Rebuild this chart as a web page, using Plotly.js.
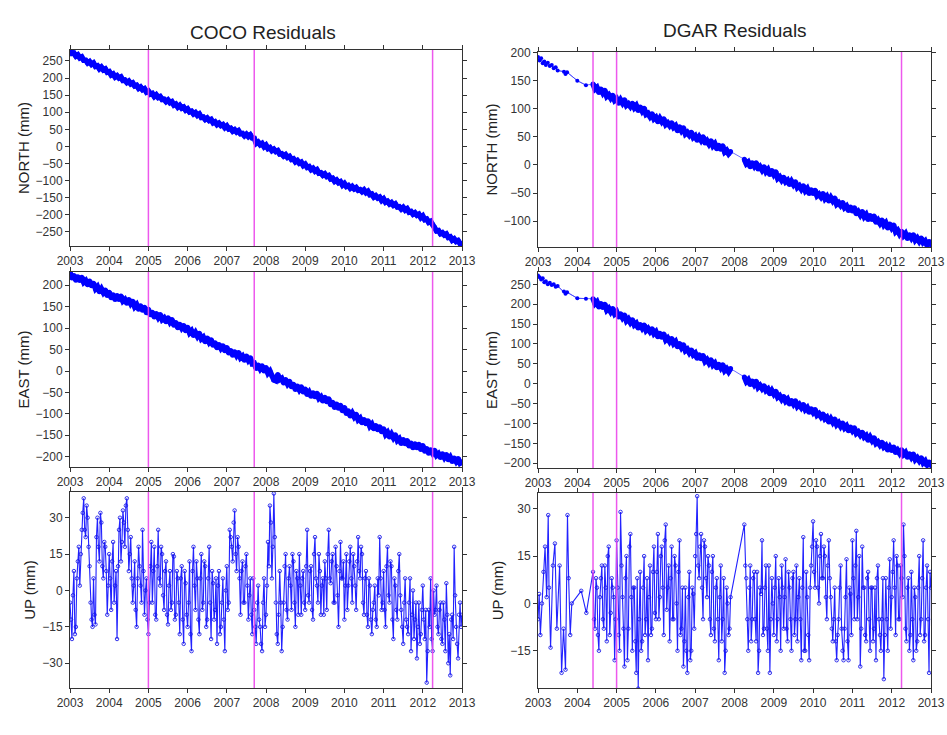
<!DOCTYPE html>
<html><head><meta charset="utf-8">
<script src="https://cdn.plot.ly/plotly-3.0.1.min.js"></script>
<style>html,body{margin:0;padding:0;background:#fff}#chart{width:947px;height:735px}</style>
</head><body><div id="chart"></div>
<script>
// ---------- COCO ----------
const cocoTime = [
2003.00,2003.05,2003.10,2003.15,2003.20,2003.25,2003.30,2003.35,2003.40,2003.45,2003.50,2003.55,2003.60,2003.65,2003.70,2003.75,2003.80,2003.85,2003.90,2003.95,
2004.00,2004.05,2004.10,2004.15,2004.20,2004.25,2004.30,2004.35,2004.40,2004.45,2004.50,2004.55,2004.60,2004.65,2004.70,2004.75,2004.80,2004.85,2004.90,2004.95,
2005.00,2005.05,2005.10,2005.15,2005.20,2005.25,2005.30,2005.35,2005.40,2005.45,2005.50,2005.55,2005.60,2005.65,2005.70,2005.75,2005.80,2005.85,2005.90,2005.95,
2006.00,2006.05,2006.10,2006.15,2006.20,2006.25,2006.30,2006.35,2006.40,2006.45,2006.50,2006.55,2006.60,2006.65,2006.70,2006.75,2006.80,2006.85,2006.90,2006.95,
2007.00,2007.05,2007.10,2007.15,2007.20,2007.25,2007.30,2007.35,2007.40,2007.45,2007.50,2007.55,2007.60,2007.65,2007.70,2007.75,2007.80,2007.85,2007.90,2007.95,
2008.00,2008.05,2008.10,2008.15,2008.20,2008.25,2008.30,2008.35,2008.40,2008.45,2008.50,2008.55,2008.60,2008.65,2008.70,2008.75,2008.80,2008.85,2008.90,2008.95,
2009.00,2009.05,2009.10,2009.15,2009.20,2009.25,2009.30,2009.35,2009.40,2009.45,2009.50,2009.55,2009.60,2009.65,2009.70,2009.75,2009.80,2009.85,2009.90,2009.95,
2010.00,2010.05,2010.10,2010.15,2010.20,2010.25,2010.30,2010.35,2010.40,2010.45,2010.50,2010.55,2010.60,2010.65,2010.70,2010.75,2010.80,2010.85,2010.90,2010.95,
2011.00,2011.05,2011.10,2011.15,2011.20,2011.25,2011.30,2011.35,2011.40,2011.45,2011.50,2011.55,2011.60,2011.65,2011.70,2011.75,2011.80,2011.85,2011.90,2011.95,
2012.00,2012.05,2012.10,2012.15,2012.20,2012.25,2012.30,2012.35,2012.40,2012.45,2012.50,2012.55,2012.60,2012.65,2012.70,2012.75,2012.80,2012.85,2012.90,2012.95,
2013.00];
const cocoNorth = [
282,272,273,264,268,259,262,252,252,244,248,240,244,234,236,227,232,224,227,217,
219,209,212,203,207,200,203,193,194,187,191,183,186,177,179,170,174,166,169,159,
162,153,155,146,151,143,146,137,138,131,136,128,131,121,124,115,120,112,115,106,
110,101,103,95,99,91,95,85,86,79,83,76,79,69,72,64,68,61,64,55,
60,51,53,45,49,42,46,37,38,31,36,29,34,25,24,9,13,5,9,-1,
4,-6,-3,-12,-8,-15,-12,-22,-21,-28,-24,-32,-29,-38,-36,-45,-41,-49,-46,-56,
-52,-61,-59,-68,-64,-72,-68,-78,-77,-84,-80,-88,-85,-95,-93,-102,-98,-106,-103,-113,
-108,-117,-114,-122,-117,-124,-120,-128,-126,-132,-127,-135,-131,-141,-139,-148,-144,-151,-148,-158,
-153,-163,-160,-168,-164,-172,-168,-177,-176,-183,-178,-186,-182,-192,-190,-198,-194,-201,-198,-208,
-203,-214,-212,-222,-219,-228,-236,-247,-246,-255,-252,-259,-256,-266,-264,-274,-270,-278,-275,-284,
-285];
const cocoEast = [
230,217,223,212,220,211,219,207,211,201,210,199,205,192,197,185,192,183,189,176,
184,171,178,167,176,167,175,163,167,158,167,157,163,150,155,144,152,142,149,136,
144,131,137,126,134,125,132,120,124,115,124,114,120,107,113,101,109,100,106,94,
102,89,94,83,90,81,88,75,79,68,77,67,73,60,66,54,62,53,59,47,
55,42,48,37,45,36,43,31,35,25,35,25,31,17,18,6,14,5,12,0,
8,-5,0,-11,-21,-23,-8,-20,-17,-28,-20,-30,-24,-37,-31,-43,-35,-44,-37,-49,
-42,-55,-49,-59,-51,-60,-52,-64,-60,-70,-61,-72,-65,-79,-73,-85,-77,-87,-80,-93,
-85,-99,-93,-105,-98,-107,-101,-114,-110,-121,-113,-123,-116,-129,-124,-135,-127,-137,-130,-142,
-135,-148,-143,-154,-147,-156,-149,-162,-158,-169,-160,-170,-162,-175,-168,-179,-170,-179,-171,-183,
-174,-187,-181,-192,-184,-192,-185,-197,-193,-202,-193,-202,-195,-207,-201,-211,-203,-211,-204,-215,
-212];
const cocoUp = [
-5,-20,8,-15,12,2,25,38,22,30,10,-12,5,-14,30,12,28,5,18,-10,
15,-8,20,2,-20,25,12,33,18,38,8,22,-5,12,-15,18,2,25,-10,5,
-18,10,-5,18,-12,25,2,15,-8,12,-14,8,-5,14,-10,5,-18,10,-22,3,
-15,12,-25,18,-8,5,-18,15,-5,10,-12,18,-20,3,-8,-22,8,-15,5,-25,
10,-5,22,12,33,8,18,-10,12,-5,15,-12,5,-18,-8,-22,2,-15,-25,5,
-10,20,35,5,40,-5,-22,8,-25,-5,15,-12,10,-8,12,-15,5,15,-10,8,
-8,25,-5,10,-12,22,2,15,-10,5,12,-8,25,3,15,-5,10,-15,20,5,
-12,15,2,18,-5,10,-8,22,5,15,-10,8,-15,2,-18,-5,-12,5,22,-8,
8,-15,18,-5,10,-20,2,-12,15,-8,-22,5,-15,-5,-25,0,-12,-28,-5,-18,
2,-20,-38,-8,5,-25,-10,2,-18,-5,-22,-12,3,-30,-35,-10,18,-15,-28,-5,
-10];
const cocoUpMidTime = [
2003.025,2003.075,2003.125,2003.175,2003.225,2003.275,2003.325,2003.375,2003.425,2003.475,2003.525,2003.575,2003.625,2003.675,2003.725,2003.775,2003.825,2003.875,2003.925,2003.975,
2004.025,2004.075,2004.125,2004.175,2004.225,2004.275,2004.325,2004.375,2004.425,2004.475,2004.525,2004.575,2004.625,2004.675,2004.725,2004.775,2004.825,2004.875,2004.925,2004.975,
2005.025,2005.075,2005.125,2005.175,2005.225,2005.275,2005.325,2005.375,2005.425,2005.475,2005.525,2005.575,2005.625,2005.675,2005.725,2005.775,2005.825,2005.875,2005.925,2005.975,
2006.025,2006.075,2006.125,2006.175,2006.225,2006.275,2006.325,2006.375,2006.425,2006.475,2006.525,2006.575,2006.625,2006.675,2006.725,2006.775,2006.825,2006.875,2006.925,2006.975,
2007.025,2007.075,2007.125,2007.175,2007.225,2007.275,2007.325,2007.375,2007.425,2007.475,2007.525,2007.575,2007.625,2007.675,2007.725,2007.775,2007.825,2007.875,2007.925,2007.975,
2008.025,2008.075,2008.125,2008.175,2008.225,2008.275,2008.325,2008.375,2008.425,2008.475,2008.525,2008.575,2008.625,2008.675,2008.725,2008.775,2008.825,2008.875,2008.925,2008.975,
2009.025,2009.075,2009.125,2009.175,2009.225,2009.275,2009.325,2009.375,2009.425,2009.475,2009.525,2009.575,2009.625,2009.675,2009.725,2009.775,2009.825,2009.875,2009.925,2009.975,
2010.025,2010.075,2010.125,2010.175,2010.225,2010.275,2010.325,2010.375,2010.425,2010.475,2010.525,2010.575,2010.625,2010.675,2010.725,2010.775,2010.825,2010.875,2010.925,2010.975,
2011.025,2011.075,2011.125,2011.175,2011.225,2011.275,2011.325,2011.375,2011.425,2011.475,2011.525,2011.575,2011.625,2011.675,2011.725,2011.775,2011.825,2011.875,2011.925,2011.975,
2012.025,2012.075,2012.125,2012.175,2012.225,2012.275,2012.325,2012.375,2012.425,2012.475,2012.525,2012.575,2012.625,2012.675,2012.725,2012.775,2012.825,2012.875,2012.925,2012.975];
const cocoUpMid = [
-12,-2,-18,5,18,15,32,25,35,18,-5,-15,-10,22,18,32,10,20,8,2,
5,12,-5,8,10,30,20,28,35,25,15,5,2,-8,5,10,-5,8,0,-12,
-5,20,8,-10,10,5,18,-2,8,-10,2,-8,15,-12,8,-5,5,-12,8,-10,
-5,-18,8,2,12,-12,5,-8,12,-15,5,-5,8,-12,5,2,-18,-5,-12,0,
-8,25,18,28,15,22,5,8,-5,10,2,-2,-10,5,-15,-5,-12,-22,-5,-15,
2,10,28,18,22,-18,-10,-5,-15,10,-8,5,2,15,-5,8,-10,2,5,-5,
10,-2,8,-8,15,5,-5,8,2,-10,5,15,5,12,-5,18,-2,8,5,12,
2,-8,12,5,15,2,12,8,18,-5,5,-10,5,-12,-8,2,-15,-2,5,-5,
-8,10,-2,12,-12,5,-8,8,-2,-15,-5,-12,-18,5,-10,-20,-5,-15,-22,-8,
-12,-8,-25,-15,-20,0,-8,-15,-8,-20,-5,-25,-10,-18,-12,-20,-2,-22,-10,-15];
const cocoEvents = [2005.0, 2007.7, 2012.25];

// ---------- DGAR ----------
const dgarEarlyTimeNE = [2003.00,2003.04,2003.08,2003.12,2003.16,2003.20,2003.25,2003.30,2003.35,2003.40,2003.45,2003.50,2003.66,2003.70,2003.74,2004.00,2004.22];
const dgarEarlyNorth = [192,186,190,181,184,178,182,176,178,172,174,168,166,162,165,150,142];
const dgarEarlyEast = [272,268,262,265,255,258,250,254,248,250,244,246,232,226,230,215,214];
const dgarEarlyTimeUp = [2003.00,2003.03,2003.06,2003.10,2003.14,2003.18,2003.22,2003.26,2003.28,2003.32,2003.38,2003.43,2003.48,2003.55,2003.60,2003.65,2003.70,2003.75,2003.78,2003.82,2003.86,2004.10,2004.23];
const dgarEarlyUp = [-5,3,-10,0,10,18,2,28,5,-14,12,19,-8,12,-22,-8,-21,28,8,-10,0,4,-3];
const dgarTime = [
2004.40,2004.45,2004.50,2004.55,2004.60,2004.65,2004.70,2004.75,2004.80,2004.85,2004.90,2004.95,
2005.00,2005.05,2005.10,2005.15,2005.20,2005.25,2005.30,2005.35,2005.40,2005.45,2005.50,2005.55,2005.60,2005.65,2005.70,2005.75,2005.80,2005.85,2005.90,2005.95,
2006.00,2006.05,2006.10,2006.15,2006.20,2006.25,2006.30,2006.35,2006.40,2006.45,2006.50,2006.55,2006.60,2006.65,2006.70,2006.75,2006.80,2006.85,2006.90,2006.95,
2007.00,2007.05,2007.10,2007.15,2007.20,2007.25,2007.30,2007.35,2007.40,2007.45,2007.50,2007.55,2007.60,2007.65,2007.70,2007.75,2007.80,2007.85,2007.90,
2008.25,2008.30,2008.35,2008.40,2008.45,2008.50,2008.55,2008.60,2008.65,2008.70,2008.75,2008.80,2008.85,2008.90,2008.95,
2009.00,2009.05,2009.10,2009.15,2009.20,2009.25,2009.30,2009.35,2009.40,2009.45,2009.50,2009.55,2009.60,2009.65,2009.70,2009.75,2009.80,2009.85,2009.90,2009.95,
2010.00,2010.05,2010.10,2010.15,2010.20,2010.25,2010.30,2010.35,2010.40,2010.45,2010.50,2010.55,2010.60,2010.65,2010.70,2010.75,2010.80,2010.85,2010.90,2010.95,
2011.00,2011.05,2011.10,2011.15,2011.20,2011.25,2011.30,2011.35,2011.40,2011.45,2011.50,2011.55,2011.60,2011.65,2011.70,2011.75,2011.80,2011.85,2011.90,2011.95,
2012.00,2012.05,2012.10,2012.15,2012.20,2012.25,2012.30,2012.35,2012.40,2012.45,2012.50,2012.55,2012.60,2012.65,2012.70,2012.75,2012.80,2012.85,2012.90,2012.95,
2013.00];
const dgarNorth = [
144,135,138,129,135,128,133,122,125,119,124,115,
118,110,116,110,116,106,109,104,110,102,106,97,103,96,101,90,92,86,91,82,
85,77,83,77,82,72,75,70,75,67,70,61,68,61,66,55,58,53,58,49,
52,44,50,44,50,39,43,37,43,34,38,29,35,28,34,23,26,20,24,
10,2,5,-3,4,-2,4,-7,-3,-9,-3,-12,-8,-17,-10,
-17,-12,-24,-21,-27,-22,-30,-27,-35,-29,-35,-30,-40,-37,-43,-37,-46,-42,-51,-44,
-51,-45,-55,-52,-57,-51,-60,-56,-64,-58,-64,-59,-70,-67,-72,-67,-76,-73,-81,-75,
-82,-76,-87,-83,-89,-83,-92,-88,-97,-90,-97,-91,-102,-98,-104,-98,-107,-103,-112,-105,
-112,-107,-119,-116,-123,-118,-126,-122,-131,-124,-130,-124,-134,-130,-136,-130,-138,-135,-143,-136,
-142];
const dgarEast = [
214,201,206,193,202,192,200,185,190,181,189,176,
181,168,176,166,173,158,163,154,161,148,152,140,149,140,148,134,139,131,138,126,
131,118,127,117,125,110,115,106,114,101,106,93,101,91,98,83,87,78,85,73,
77,64,73,63,71,56,61,52,60,47,52,40,49,40,48,33,38,30,38,
17,5,10,-2,7,-2,6,-9,-4,-12,-5,-17,-13,-25,-17,
-26,-19,-34,-30,-39,-32,-44,-39,-51,-42,-51,-43,-57,-52,-60,-52,-65,-60,-72,-63,
-72,-65,-79,-75,-83,-76,-88,-84,-96,-88,-97,-89,-103,-98,-107,-99,-111,-106,-118,-109,
-118,-111,-125,-121,-129,-122,-134,-130,-142,-134,-143,-136,-150,-146,-154,-147,-159,-155,-167,-159,
-168,-159,-173,-167,-175,-166,-178,-173,-185,-176,-185,-177,-191,-186,-194,-186,-199,-194,-206,-197,
-206];
const dgarUp = [
10,-8,5,-15,8,-5,12,-12,18,-3,5,-18,
20,-10,29,2,-20,15,-8,22,-15,5,-22,-27,10,-12,15,-5,-18,12,-8,18,
-5,22,2,18,-10,25,5,-12,18,-5,12,-15,20,-8,-20,5,-22,10,-15,3,
15,34,8,22,-5,18,2,12,-10,15,-12,8,-18,12,-5,-22,5,-10,2,
25,8,-15,12,-5,10,-12,-22,5,20,-8,12,-15,-22,8,
-10,15,-5,2,12,-8,14,-12,5,-15,10,-5,-12,8,-18,21,-15,2,-18,12,
26,5,18,0,22,8,15,-5,20,2,-12,5,-18,-5,12,-15,-8,14,-18,3,
20,-5,23,2,-20,18,5,-12,10,-15,5,-8,-18,12,-10,-5,-24,8,-15,14,
2,20,-10,12,-5,8,25,-8,5,-15,10,-18,2,-12,15,-5,20,-10,12,-22,
5];
const dgarUpMidTime = [
2004.425,2004.475,2004.525,2004.575,2004.625,2004.675,2004.725,2004.775,2004.825,2004.875,2004.925,2004.975,
2005.025,2005.075,2005.125,2005.175,2005.225,2005.275,2005.325,2005.375,2005.425,2005.475,2005.525,2005.575,2005.625,2005.675,2005.725,2005.775,2005.825,2005.875,2005.925,2005.975,
2006.025,2006.075,2006.125,2006.175,2006.225,2006.275,2006.325,2006.375,2006.425,2006.475,2006.525,2006.575,2006.625,2006.675,2006.725,2006.775,2006.825,2006.875,2006.925,2006.975,
2007.025,2007.075,2007.125,2007.175,2007.225,2007.275,2007.325,2007.375,2007.425,2007.475,2007.525,2007.575,2007.625,2007.675,2007.725,2007.775,2007.825,2007.875,
2008.275,2008.325,2008.375,2008.425,2008.475,2008.525,2008.575,2008.625,2008.675,2008.725,2008.775,2008.825,2008.875,2008.925,2008.975,
2009.025,2009.075,2009.125,2009.175,2009.225,2009.275,2009.325,2009.375,2009.425,2009.475,2009.525,2009.575,2009.625,2009.675,2009.725,2009.775,2009.825,2009.875,2009.925,2009.975,
2010.025,2010.075,2010.125,2010.175,2010.225,2010.275,2010.325,2010.375,2010.425,2010.475,2010.525,2010.575,2010.625,2010.675,2010.725,2010.775,2010.825,2010.875,2010.925,2010.975,
2011.025,2011.075,2011.125,2011.175,2011.225,2011.275,2011.325,2011.375,2011.425,2011.475,2011.525,2011.575,2011.625,2011.675,2011.725,2011.775,2011.825,2011.875,2011.925,2011.975,
2012.025,2012.075,2012.125,2012.175,2012.225,2012.275,2012.325,2012.375,2012.425,2012.475,2012.525,2012.575,2012.625,2012.675,2012.725,2012.775,2012.825,2012.875,2012.925,2012.975];
const dgarUpMid = [
-5,8,-10,2,12,-8,5,15,-10,8,2,-5,
5,-15,12,-8,8,-18,18,2,5,-12,8,-5,-15,5,-10,8,2,-10,10,-3,
10,-5,15,5,20,-2,12,8,-5,15,0,10,-10,5,-12,-15,2,-18,5,-8,
22,12,18,5,20,8,15,-5,10,-8,5,-5,2,-12,8,-15,0,-8,
12,-5,5,-12,8,-5,10,-15,3,-10,5,-8,12,-5,0,
5,-12,8,-15,5,2,-8,10,-5,8,-10,12,2,-5,5,-15,10,-10,5,18,
10,20,5,15,8,18,2,12,8,-8,-5,-12,-10,5,-8,-18,2,-12,5,-10,
8,12,-5,15,-8,5,-10,8,-5,5,-12,5,8,-5,-15,8,-10,-5,5,-8,
10,5,15,-5,12,2,15,-12,8,-10,-5,5,-15,5,-10,8,-12,5,-5,10];
const dgarEvents = [2004.4, 2005.0, 2012.25];

const xTickVals = [2003,2004,2005,2006,2007,2008,2009,2010,2011,2012,2013];

// ---------- build ----------
const blue = '#0000ff';
function merge(t1, v1, t2, v2) {
  const pts = t1.map((t, i) => [t, v1[i]]).concat(t2.map((t, i) => [t, v2[i]]));
  pts.sort((a, b) => a[0] - b[0]);
  return [pts.map(p => p[0]), pts.map(p => p[1])];
}
function band(t, v, xa, ya) {
  return {x: t, y: v, xaxis: xa, yaxis: ya, type: 'scatter', mode: 'lines+markers',
    line: {color: blue, width: 5.5}, marker: {color: blue, size: 5, line: {width: 0}}, hoverinfo: 'skip'};
}
function thin(t, v, xa, ya, msize) {
  return {x: t, y: v, xaxis: xa, yaxis: ya, type: 'scatter', mode: msize ? 'lines+markers' : 'lines',
    line: {color: 'rgba(60,60,255,0.75)', width: 1}, marker: {color: blue, size: msize || 0}, hoverinfo: 'skip'};
}
function upTrace(t, v, xa, ya) {
  return {x: t, y: v, xaxis: xa, yaxis: ya, type: 'scatter', mode: 'lines+markers',
    line: {color: 'rgba(10,10,255,0.9)', width: 1.1},
    marker: {color: 'rgba(20,20,230,0.85)', size: 3.5, symbol: 'circle-open', line: {width: 1}}, hoverinfo: 'skip'};
}
function dgarBand(early, dense, xa, ya) {
  const out = [];
  const allT = dgarEarlyTimeNE.concat(dgarTime), allV = early.concat(dense);
  out.push(thin(allT, allV, xa, ya));
  out.push(thin(dgarEarlyTimeNE, early, xa, ya, 4));
  out.push(band(dgarTime.slice(0, 71), dense.slice(0, 71), xa, ya));
  out.push(band(dgarTime.slice(71), dense.slice(71), xa, ya));
  return out;
}
const cocoUpAll = merge(cocoTime, cocoUp, cocoUpMidTime, cocoUpMid);
const dgarUpAll = merge(dgarEarlyTimeUp.concat(dgarTime), dgarEarlyUp.concat(dgarUp), dgarUpMidTime, dgarUpMid);
const data = [
  band(cocoTime, cocoNorth, 'x', 'y'),
  ...dgarBand(dgarEarlyNorth, dgarNorth, 'x2', 'y2'),
  band(cocoTime, cocoEast, 'x3', 'y3'),
  ...dgarBand(dgarEarlyEast, dgarEast, 'x4', 'y4'),
  upTrace(cocoUpAll[0], cocoUpAll[1], 'x5', 'y5'),
  upTrace(dgarUpAll[0], dgarUpAll[1], 'x6', 'y6')
];

const W = 947, H = 735;
const colX = [[70, 462], [538, 931]];
const rowY = [[[50, 246], [272, 467], [492, 688]], [[52, 247], [272, 468], [493, 688]]];
const yRanges = [[[-291, 282], [-224, 231], [-40.2, 40.6]], [[-146, 201], [-212, 281], [-26.8, 35]]];
const yTicks = [
  [[-250,-200,-150,-100,-50,0,50,100,150,200,250], [-200,-150,-100,-50,0,50,100,150,200], [-30,-15,0,15,30]],
  [[-100,-50,0,50,100,150,200], [-200,-150,-100,-50,0,50,100,150,200,250], [-15,0,15,30]]
];
const yTitles = ['NORTH (mm)', 'EAST (mm)', 'UP (mm)'];
const tickFont = {family: 'Liberation Sans, Arial, sans-serif', size: 12, color: '#333'};

const layout = {
  width: W, height: H, margin: {l: 0, r: 0, t: 0, b: 0},
  paper_bgcolor: '#fff', plot_bgcolor: '#fff', showlegend: false,
  font: {family: 'Liberation Sans, Arial, sans-serif', color: '#222'},
  shapes: [], annotations: [
    {text: 'COCO Residuals', x: 263/W, y: 1 - 33/H, xref: 'paper', yref: 'paper', showarrow: false, font: {size: 19, color: '#222'}, xanchor: 'center', yanchor: 'middle'},
    {text: 'DGAR Residuals', x: 735/W, y: 1 - 30/H, xref: 'paper', yref: 'paper', showarrow: false, font: {size: 19, color: '#222'}, xanchor: 'center', yanchor: 'middle'}
  ]
};
let idx = 1;
for (let r = 0; r < 3; r++) {
  for (let c = 0; c < 2; c++) {
    const s = idx === 1 ? '' : String(idx);
    const ry = rowY[c][r];
    layout['xaxis' + s] = {
      domain: [colX[c][0] / W, colX[c][1] / W], anchor: 'y' + s, range: [2003, 2013],
      tickvals: xTickVals, ticktext: xTickVals.map(String), ticks: 'outside', ticklen: 4, tickwidth: 1, tickcolor: '#333',
      showline: true, linecolor: '#333', linewidth: 1, mirror: 'ticks', showgrid: false, zeroline: false,
      tickfont: tickFont, fixedrange: true
    };
    layout['yaxis' + s] = {
      domain: [1 - ry[1] / H, 1 - ry[0] / H], anchor: 'x' + s, range: yRanges[c][r],
      tickvals: yTicks[c][r], ticks: 'outside', ticklen: 4, tickwidth: 1, tickcolor: '#333',
      showline: true, linecolor: '#333', linewidth: 1, mirror: 'ticks', showgrid: false, zeroline: false,
      tickfont: tickFont, fixedrange: true,
      title: {text: yTitles[r], font: {size: 15, color: '#222'}, standoff: 2}
    };
    const ev = c === 0 ? cocoEvents : dgarEvents;
    ev.forEach(e => layout.shapes.push({type: 'line', xref: 'x' + s, yref: 'y' + s + ' domain', x0: e, x1: e, y0: 0, y1: 1,
      line: {color: 'rgba(235,70,235,0.9)', width: 1.5}, layer: 'above'}));
    idx++;
  }
}
Plotly.newPlot('chart', data, layout, {staticPlot: true, displayModeBar: false});
</script>
</body></html>
